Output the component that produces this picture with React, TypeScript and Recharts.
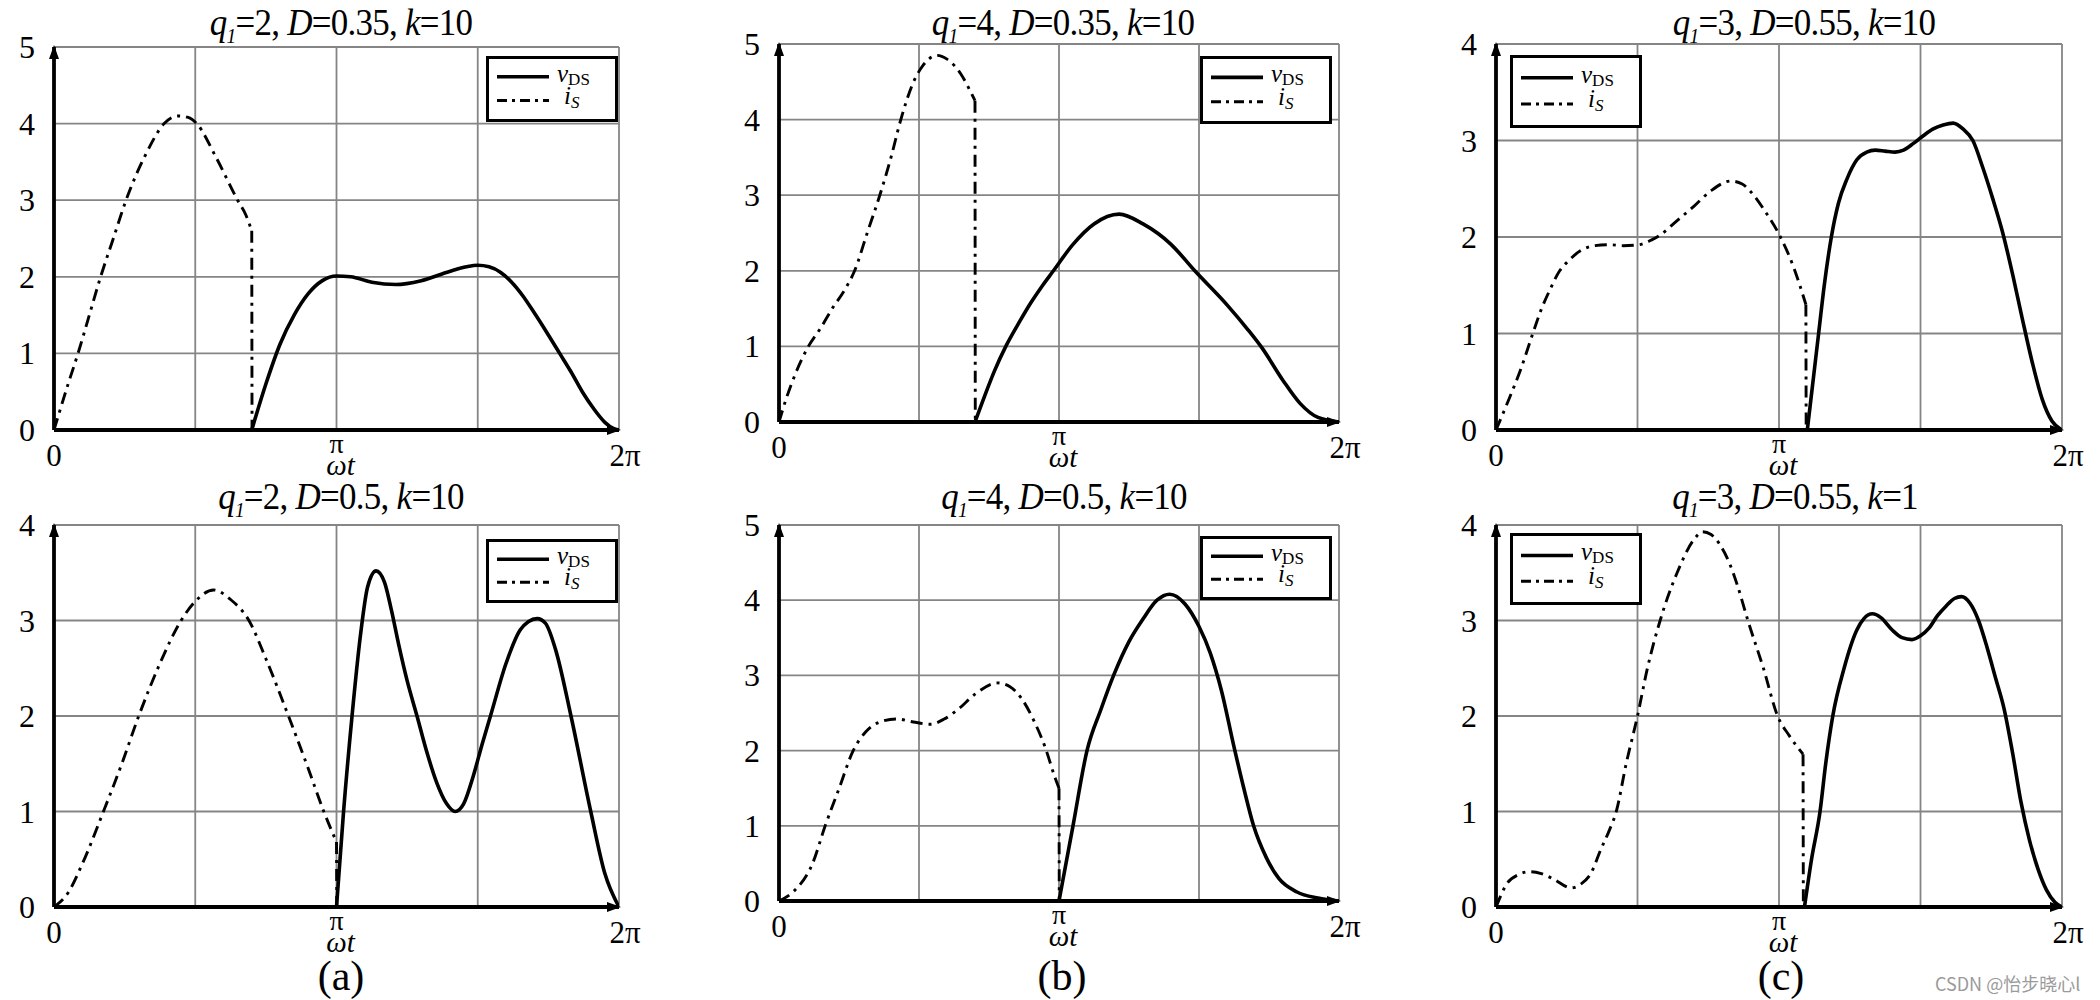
import React from 'react';
import { LineChart, Line, XAxis, YAxis, CartesianGrid, ReferenceDot } from 'recharts';

type P = [number, number];

// x in units of pi/2 : 0 .. 4  (0 .. 2π)
const X_TICKS = [0, 1, 2, 3, 4];
const Y_TICKS_4 = [0, 1, 2, 3, 4];
const Y_TICKS_5 = [0, 1, 2, 3, 4, 5];

// (a) q1=2, D=0.35, k=10
const isA1: P[] = [[0,0],[0.1,0.6],[0.17,1],[0.25,1.5],[0.33,2],[0.42,2.5],[0.51,3],[0.65,3.6],[0.78,4],[0.88,4.1],[0.95,4.08],[1.01,4],[1.15,3.55],[1.3,3],[1.36,2.8],[1.4,2.6],[1.402,0]];
const vdsA1: P[] = [[1.4,0],[1.5,0.6],[1.6,1.12],[1.7,1.5],[1.8,1.78],[1.9,1.95],[2.0,2.01],[2.1,2.0],[2.25,1.93],[2.42,1.9],[2.6,1.95],[2.8,2.07],[2.92,2.13],[3.0,2.15],[3.08,2.13],[3.16,2.06],[3.24,1.93],[3.32,1.75],[3.4,1.53],[3.49,1.27],[3.58,1.0],[3.66,0.76],[3.74,0.5],[3.82,0.28],[3.9,0.1],[3.96,0.02],[4,0]];
// (a) q1=2, D=0.5, k=10
const isA2: P[] = [[0,0],[0.1,0.15],[0.2,0.45],[0.35,1],[0.48,1.5],[0.6,2],[0.75,2.55],[0.9,3],[1.0,3.2],[1.13,3.32],[1.25,3.22],[1.38,3],[1.5,2.6],[1.66,2],[1.8,1.45],[1.91,1],[2.0,0.68],[2.002,0]];
const vdsA2: P[] = [[2.0,0],[2.05,1.0],[2.11,2],[2.17,2.85],[2.22,3.35],[2.28,3.52],[2.34,3.4],[2.39,3.1],[2.44,2.75],[2.5,2.37],[2.57,2.0],[2.64,1.62],[2.71,1.3],[2.78,1.08],[2.84,1.0],[2.9,1.08],[2.97,1.38],[3.03,1.7],[3.09,2.0],[3.2,2.55],[3.3,2.9],[3.36,2.99],[3.42,3.02],[3.48,2.97],[3.55,2.7],[3.66,2.0],[3.8,1.0],[3.9,0.35],[4,0]];
// (b) q1=4, D=0.35, k=10
const isB1: P[] = [[0,0],[0.05,0.3],[0.12,0.65],[0.21,1],[0.3,1.25],[0.38,1.5],[0.47,1.75],[0.54,2],[0.63,2.5],[0.72,3],[0.8,3.5],[0.87,4],[0.95,4.45],[1.03,4.72],[1.13,4.85],[1.2,4.8],[1.3,4.6],[1.36,4.4],[1.4,4.25],[1.402,0]];
const vdsB1: P[] = [[1.4,0],[1.47,0.35],[1.54,0.68],[1.62,1.0],[1.71,1.3],[1.8,1.58],[1.88,1.8],[1.96,2.0],[2.1,2.35],[2.25,2.62],[2.43,2.75],[2.6,2.62],[2.8,2.35],[2.97,2],[3.2,1.55],[3.35,1.22],[3.45,0.98],[3.6,0.55],[3.72,0.25],[3.85,0.06],[4,0]];
// (b) q1=4, D=0.5, k=10
const isB2: P[] = [[0,0],[0.1,0.12],[0.24,0.5],[0.33,1],[0.43,1.5],[0.53,2],[0.62,2.25],[0.72,2.38],[0.84,2.42],[0.96,2.38],[1.08,2.35],[1.18,2.42],[1.28,2.55],[1.4,2.75],[1.56,2.9],[1.65,2.85],[1.73,2.7],[1.82,2.4],[1.9,2.05],[1.97,1.65],[2.0,1.5],[2.002,0]];
const vdsB2: P[] = [[2.0,0],[2.05,0.5],[2.1,1],[2.2,2],[2.3,2.55],[2.39,3],[2.5,3.45],[2.6,3.75],[2.7,4.0],[2.79,4.08],[2.9,3.95],[3.0,3.65],[3.08,3.3],[3.16,2.8],[3.25,2.05],[3.32,1.5],[3.39,1.0],[3.48,0.58],[3.57,0.3],[3.7,0.12],[3.85,0.04],[4,0]];
// (c) q1=3, D=0.55, k=10
const isC1: P[] = [[0,0],[0.1,0.35],[0.18,0.65],[0.26,1],[0.32,1.25],[0.38,1.45],[0.45,1.65],[0.51,1.75],[0.6,1.86],[0.7,1.91],[0.8,1.92],[0.9,1.91],[1.01,1.92],[1.1,1.97],[1.16,2.02],[1.28,2.17],[1.4,2.32],[1.52,2.48],[1.66,2.58],[1.74,2.55],[1.8,2.47],[1.9,2.27],[2.01,2.0],[2.1,1.7],[2.19,1.3],[2.192,0]];
const vdsC1: P[] = [[2.2,0],[2.24,0.5],[2.28,1],[2.32,1.5],[2.37,2],[2.42,2.35],[2.48,2.6],[2.55,2.8],[2.62,2.88],[2.68,2.9],[2.75,2.89],[2.82,2.88],[2.88,2.9],[2.95,2.97],[3.02,3.05],[3.09,3.12],[3.16,3.16],[3.23,3.18],[3.3,3.12],[3.37,3.0],[3.44,2.72],[3.51,2.4],[3.58,2.05],[3.65,1.62],[3.72,1.15],[3.79,0.7],[3.86,0.32],[3.93,0.09],[4,0]];
// (c) q1=3, D=0.55, k=1
const isC2: P[] = [[0,0],[0.08,0.25],[0.16,0.34],[0.24,0.37],[0.32,0.35],[0.41,0.29],[0.53,0.2],[0.6,0.24],[0.67,0.35],[0.74,0.6],[0.8,0.8],[0.85,1.0],[0.92,1.5],[1.0,2.0],[1.07,2.5],[1.16,3.0],[1.28,3.5],[1.4,3.85],[1.46,3.93],[1.52,3.9],[1.58,3.8],[1.65,3.6],[1.71,3.35],[1.78,3.0],[1.89,2.5],[1.99,2.0],[2.07,1.8],[2.17,1.6],[2.172,0]];
const vdsC2: P[] = [[2.18,0],[2.23,0.5],[2.29,1],[2.33,1.5],[2.38,2],[2.46,2.5],[2.55,2.9],[2.6,3.02],[2.66,3.07],[2.72,3.03],[2.8,2.9],[2.87,2.82],[2.94,2.8],[3.0,2.84],[3.06,2.92],[3.12,3.05],[3.18,3.15],[3.24,3.23],[3.29,3.25],[3.35,3.18],[3.41,3.0],[3.47,2.72],[3.53,2.4],[3.59,2.08],[3.65,1.62],[3.71,1.1],[3.77,0.7],[3.83,0.4],[3.89,0.18],[3.95,0.05],[4,0]];

const toPts = (a: P[]) => a.map(([x, y]) => ({ x, y }));

const SERIF = '"Liberation Serif", "DejaVu Serif", serif';

type Panel = {
  L: number; T: number; W: number; H: number; yMax: number;
  is: P[]; vds: P[];
  title: [string, string, string]; titleX: number; titleY: number;
  legend: { left: number; top: number; h: number };
};

const PANELS: Panel[] = [
  { L: 54, T: 47, W: 565, H: 383, yMax: 5, is: isA1, vds: vdsA1, title: ['2', '0.35', '10'], titleX: 341, titleY: 21, legend: { left: 486, top: 56, h: 66 } },
  { L: 54, T: 525, W: 565, H: 382, yMax: 4, is: isA2, vds: vdsA2, title: ['2', '0.5', '10'], titleX: 341, titleY: 495, legend: { left: 486, top: 539, h: 64 } },
  { L: 779, T: 44, W: 560, H: 378, yMax: 5, is: isB1, vds: vdsB1, title: ['4', '0.35', '10'], titleX: 1063, titleY: 21, legend: { left: 1200, top: 56, h: 68 } },
  { L: 779, T: 525, W: 560, H: 376, yMax: 5, is: isB2, vds: vdsB2, title: ['4', '0.5', '10'], titleX: 1064, titleY: 495, legend: { left: 1200, top: 536, h: 64 } },
  { L: 1496, T: 44, W: 566, H: 386, yMax: 4, is: isC1, vds: vdsC1, title: ['3', '0.55', '10'], titleX: 1804, titleY: 21, legend: { left: 1510, top: 55, h: 73 } },
  { L: 1496, T: 525, W: 566, H: 382, yMax: 4, is: isC2, vds: vdsC2, title: ['3', '0.55', '1'], titleX: 1795, titleY: 495, legend: { left: 1510, top: 533, h: 72 } },
];

const PANEL_LABELS = [
  { text: '(a)', x: 341 },
  { text: '(b)', x: 1062 },
  { text: '(c)', x: 1781 },
];

const XTick = (props: any) => {
  const { x, y, payload } = props;
  const v = payload.value;
  if (v === 0) return <text x={x} y={y + 25} textAnchor="middle" dominantBaseline="central" fontFamily={SERIF} fontSize={31}>0</text>;
  if (v === 4) return <text x={x + 6} y={y + 25} textAnchor="middle" dominantBaseline="central" fontFamily={SERIF} fontSize={31}>2π</text>;
  if (v === 2)
    return (
      <g>
        <text x={x} y={y + 13} textAnchor="middle" dominantBaseline="central" fontFamily={SERIF} fontSize={28}>π</text>
        <text x={x + 4} y={y + 35} textAnchor="middle" dominantBaseline="central" fontFamily={SERIF} fontStyle="italic" fontSize={29}>ωt</text>
      </g>
    );
  return <g />;
};

const YTick = (props: any) => {
  const { x, y, payload } = props;
  return <text x={x - 27} y={y} textAnchor="middle" dominantBaseline="central" fontFamily={SERIF} fontSize={32}>{payload.value}</text>;
};

const LegendBox = ({ left, top, h }: { left: number; top: number; h: number }) => (
  <div style={{ position: 'absolute', left, top, width: 132, height: h, border: '3.5px solid #000', boxSizing: 'border-box', background: '#fff' }}>
    <svg width={125} height={h - 7} style={{ position: 'absolute', left: 0, top: 0 }}>
      <line x1={8} x2={60} y1={h * 0.27} y2={h * 0.27} stroke="#000" strokeWidth={3.6} />
      <line x1={8} x2={60} y1={h * 0.63} y2={h * 0.63} stroke="#000" strokeWidth={3} strokeDasharray="10 5 3 5" />
      <text x={68} y={h * 0.27 + 5} fontFamily={SERIF} fontSize={25} fontStyle="italic">
        v<tspan fontSize={17} fontStyle="normal" dy={3}>DS</tspan>
      </text>
      <text x={75} y={h * 0.63 + 3} fontFamily={SERIF} fontSize={25} fontStyle="italic">
        i<tspan fontSize={17} dy={4}>S</tspan>
      </text>
    </svg>
  </div>
);

const Title = ({ vals, x, y }: { vals: [string, string, string]; x: number; y: number }) => (
  <div style={{ position: 'absolute', left: x, top: y - 19, height: 40, lineHeight: '40px', fontFamily: SERIF, fontSize: 38, whiteSpace: 'nowrap', transform: 'translateX(-50%) scaleX(0.92)', letterSpacing: -0.8 }}>
    <i>q</i>
    <i style={{ fontSize: 21, position: 'relative', top: 8 }}>1</i>={vals[0]}, <i>D</i>={vals[1]}, <i>k</i>={vals[2]}
  </div>
);

const ML = 60, MT = 20, MR = 30, MB = 70;

const PanelChart = ({ p }: { p: Panel }) => {
  const yTicks = p.yMax === 5 ? Y_TICKS_5 : Y_TICKS_4;
  const isCurve = p.is.slice(0, -1);
  const isDrop = p.is.slice(-2);
  return (
    <div style={{ position: 'absolute', left: p.L - ML, top: p.T - MT }}>
      <LineChart width={p.W + ML + MR} height={p.H + MT + MB} margin={{ top: MT, right: MR, bottom: 0, left: 0 }}>
        <CartesianGrid stroke="#858585" strokeWidth={1.8} />
        <XAxis type="number" dataKey="x" domain={[0, 4]} ticks={X_TICKS} height={MB} tick={<XTick />} tickLine={false} tickSize={0} tickMargin={0} axisLine={{ stroke: '#000', strokeWidth: 3.8 }} allowDataOverflow />
        <YAxis type="number" dataKey="y" domain={[0, p.yMax]} ticks={yTicks} width={ML} tick={<YTick />} tickLine={false} tickSize={0} tickMargin={0} axisLine={{ stroke: '#000', strokeWidth: 3.8 }} allowDataOverflow />
        <Line data={toPts(isCurve)} dataKey="y" type="monotone" stroke="#000" strokeWidth={2.9} strokeDasharray="12 6 3 6" dot={false} isAnimationActive={false} />
        <Line data={toPts(isDrop)} dataKey="y" type="linear" stroke="#000" strokeWidth={2.9} strokeDasharray="12 6 3 6" dot={false} isAnimationActive={false} />
        <Line data={toPts(p.vds)} dataKey="y" type="monotone" stroke="#000" strokeWidth={3.6} dot={false} isAnimationActive={false} />
        <ReferenceDot x={0} y={p.yMax} ifOverflow="visible" shape={(s: any) => <path d={`M${s.cx},${s.cy - 2} L${s.cx - 5},${s.cy + 12} L${s.cx + 5},${s.cy + 12} Z`} fill="#000" />} />
        <ReferenceDot x={4} y={0} ifOverflow="visible" shape={(s: any) => <path d={`M${s.cx + 2},${s.cy} L${s.cx - 12},${s.cy - 5} L${s.cx - 12},${s.cy + 5} Z`} fill="#000" />} />
      </LineChart>
    </div>
  );
};

export default function App() {
  return (
    <div style={{ position: 'absolute', left: 0, top: 0, width: 2100, height: 1000, background: '#fff', overflow: 'hidden' }}>
      {PANELS.map((p, i) => (
        <React.Fragment key={i}>
          <PanelChart p={p} />
          <Title vals={p.title} x={p.titleX} y={p.titleY} />
          <LegendBox left={p.legend.left} top={p.legend.top} h={p.legend.h} />
        </React.Fragment>
      ))}
      {PANEL_LABELS.map((l) => (
        <div key={l.text} style={{ position: 'absolute', left: l.x, top: 954, transform: 'translateX(-50%)', fontFamily: SERIF, fontSize: 42, lineHeight: '44px' }}>{l.text}</div>
      ))}
      <div style={{ position: 'absolute', left: 1935, top: 970, fontFamily: '"Noto Sans CJK SC", "Noto Sans", sans-serif', fontSize: 18, color: '#9a9a9a' }}>CSDN @怡步晓心l</div>
    </div>
  );
}
